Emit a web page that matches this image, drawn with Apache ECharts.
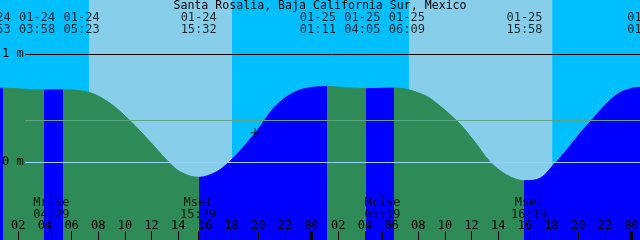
<!DOCTYPE html>
<html><head><meta charset="utf-8">
<script src="https://cdn.jsdelivr.net/npm/echarts@6/dist/echarts.min.js"></script>
<style>html,body{margin:0;padding:0;background:#00BFFF}#c{width:640px;height:240px}</style>
</head><body><div id="c"></div>
<script>
const chartTitle = 'Santa Rosalia, Baja California Sur, Mexico';
// hours since 01-24 00:00
const tideTimes  = [0.63, 0.883, 2.13, 3.967, 5.383, 7.38, 8.88, 10.38, 11.88, 13.13, 14.13, 15.533, 16.88, 17.88, 19.13, 20.13, 21.13, 22.13, 23.13, 24.13, 25.183, 26.13, 28.083, 30.15, 31.13, 32.13, 32.88, 34.88, 36.13, 37.38, 38.63, 39.967, 41.13, 42.13, 43.13, 44.13, 45.13, 46.13, 47.13, 48.13, 48.63, 49.03];
const tideLevels = [0.682, 0.684, 0.676, 0.667, 0.669, 0.642, 0.544, 0.382, 0.188, 0.019, -0.090, -0.142, -0.090, 0.009, 0.173, 0.327, 0.497, 0.605, 0.667, 0.692, 0.699, 0.692, 0.679, 0.685, 0.673, 0.634, 0.590, 0.382, 0.204, 0.003, -0.120, -0.173, -0.151, -0.028, 0.111, 0.266, 0.405, 0.544, 0.642, 0.685, 0.692, 0.694];

const eventDates = ['01-24', '01-24', '01-24', '01-24', '01-25', '01-25', '01-25', '01-25', '01-26'];
const eventClock = ['00:53', '03:58', '05:23', '15:32', '01:11', '04:05', '06:09', '15:58', '01:02'];

const moonNames = ['Mrise', 'Mset', 'Mrise', 'Mset'];
const moonDates = ['01-24', '01-24', '01-25', '01-25'];
const moonClock = ['04:29', '15:29', '05:19', '16:19'];

const sunDates   = ['01-24', '01-25'];
const sunriseClk = ['07:18', '07:18'];
const sunsetClk  = ['18:02', '18:03'];

const hourTicks  = [2, 4, 6, 8, 10, 12, 14, 16, 18, 20, 22, 24, 26, 28, 30, 32, 34, 36, 38, 40, 42, 44, 46, 48];
const hourLabels = ['02','04','06','08','10','12','14','16','18','20','22','00','02','04','06','08','10','12','14','16','18','20','22','00'];
const midnights  = [24, 48];

const levelTicks  = [0, 1];
const levelLabels = ['0 m', '1 m'];
const meanLevel = 0.39;
const nowTime = 19.76, nowLevel = 0.27;

const T0 = 0.63, SPAN = 48, YMAX = 1.5, YMIN = 1.5 - 240 / 108;
const FONT = 'DejaVu Sans Mono';
const C_DAY = '#87CEEB', C_NIGHT = '#00BFFF', C_EBB = '#2E8B57', C_FLOOD = '#0000FF';

function toHours(date, clock) {
  const d = +date.split('-')[1] - 24;
  const p = clock.split(':').map(Number);
  return d * 24 + p[0] + p[1] / 60;
}
const eventTimes = eventDates.map((d, i) => toHours(d, eventClock[i]));
const moonTimes = moonDates.map((d, i) => toHours(d, moonClock[i]));
const sunRise = sunDates.map((d, i) => toHours(d, sunriseClk[i]));
const sunSet = sunDates.map((d, i) => toHours(d, sunsetClk[i]));

// extremes alternate high/low starting with a high: rising (flood) before a high, falling (ebb) after it
const pieces = [];
for (let i = 0; i <= eventTimes.length; i++) {
  const p = {};
  if (i > 0) p.gte = eventTimes[i - 1];
  if (i < eventTimes.length) p.lt = eventTimes[i];
  p.color = (i % 2 === 1) ? C_EBB : C_FLOOD;
  pieces.push(p);
}

function pack(xs, gap) {
  const cl = xs.map(x => ({ sum: x, n: 1 }));
  let changed = true;
  while (changed) {
    changed = false;
    for (let i = 1; i < cl.length; i++) {
      const a = cl[i - 1], b = cl[i];
      const aEnd = a.sum / a.n + (a.n - 1) / 2 * gap;
      const bStart = b.sum / b.n - (b.n - 1) / 2 * gap;
      if (bStart - aEnd < gap) { a.sum += b.sum; a.n += b.n; cl.splice(i, 1); changed = true; break; }
    }
  }
  const out = [];
  cl.forEach(c => { const m = c.sum / c.n; for (let k = 0; k < c.n; k++) out.push(m + (k - (c.n - 1) / 2) * gap); });
  return out;
}
const pxPerHour = 640 / SPAN;
const packed = pack(eventTimes, 44.5 / pxPerHour);

const chart = echarts.init(document.getElementById('c'), null, { renderer: 'canvas' });
const txt = { fontFamily: FONT, fontSize: 12, color: '#000' };
const hiddenX = (gi, extra) => Object.assign({
  type: 'value', gridIndex: gi, min: T0, max: T0 + SPAN, position: 'bottom', z: 10,
  axisLine: { show: false, onZero: false }, splitLine: { show: false }, axisLabel: { show: false }, axisTick: { show: false }
}, extra || {});

chart.setOption({
  animation: false,
  backgroundColor: C_NIGHT,
  title: { text: chartTitle, left: 'center', top: 0, padding: 0, textStyle: Object.assign({}, txt, { fontWeight: 'normal', fontSize: 11.6 }) },
  grid: [
    { left: 0, right: 0, top: 0, bottom: 0, outerBoundsMode: 'none' },
    { left: 25, right: 0, top: 0, bottom: 0, outerBoundsMode: 'none' }
  ],
  xAxis: [
    hiddenX(0, {
      axisTick: { show: true, inside: true, length: 9, customValues: hourTicks, lineStyle: { color: '#000', width: 1 } },
      axisLabel: Object.assign({ show: true, inside: true, margin: 8, customValues: hourTicks, hideOverlap: false,
        formatter: v => hourLabels[hourTicks.indexOf(Math.round(v))] }, txt)
    }),
    hiddenX(0, { axisTick: { show: true, inside: true, length: 9, customValues: midnights, lineStyle: { color: '#000', width: 3 } } }),
    hiddenX(0, { axisTick: { show: true, inside: true, length: 9, customValues: moonTimes, lineStyle: { color: '#000', width: 1 } } }),
    hiddenX(1)
  ],
  yAxis: [
    { type: 'value', gridIndex: 0, min: YMIN, max: YMAX, position: 'left', z: 10,
      axisLine: { show: false, onZero: false }, splitLine: { show: false }, axisTick: { show: false },
      axisLabel: Object.assign({ show: true, inside: true, margin: 2, customValues: levelTicks, hideOverlap: false,
        formatter: v => levelLabels[levelTicks.indexOf(Math.round(v))] }, txt) },
    { type: 'value', gridIndex: 0, min: 0, max: 240, inverse: true, position: 'right', show: false },
    { type: 'value', gridIndex: 1, min: YMIN, max: YMAX, show: false }
  ],
  visualMap: { type: 'piecewise', show: false, dimension: 0, seriesIndex: 1, pieces: pieces },
  series: [
    { type: 'line', xAxisIndex: 0, yAxisIndex: 0, data: [], z: 0, silent: true,
      markArea: { silent: true, itemStyle: { color: C_DAY, opacity: 1 },
        data: sunRise.map((r, i) => [{ xAxis: r }, { xAxis: sunSet[i] }]) } },
    { type: 'line', xAxisIndex: 0, yAxisIndex: 0, z: 2, smooth: 0.35, symbol: 'none', silent: true,
      data: tideTimes.map((t, i) => [t, tideLevels[i]]),
      lineStyle: { width: 1 }, areaStyle: { opacity: 1, origin: 'start' } },
    { type: 'line', xAxisIndex: 3, yAxisIndex: 2, data: [], z: 4, silent: true,
      markLine: { silent: true, symbol: 'none', label: { show: false },
        data: [
          { yAxis: 1, lineStyle: { color: '#000', width: 1, type: 'solid' } },
          { yAxis: meanLevel, lineStyle: { color: '#5EA584', width: 1, type: 'solid' } },
          { yAxis: 0, lineStyle: { color: '#95D3F0', width: 1, type: 'solid' } }
        ] } },
    { type: 'scatter', xAxisIndex: 0, yAxisIndex: 0, z: 6, silent: true,
      symbol: 'path://M0,4h9v1h-9zM4,0h1v9h-1z', symbolSize: 9, itemStyle: { color: '#000' },
      data: [[nowTime, nowLevel]] },
    { type: 'scatter', xAxisIndex: 0, yAxisIndex: 1, z: 6, silent: true, symbolSize: 0, clip: false,
      data: packed.map((x, i) => ({ value: [x, 24], name: eventDates[i] + '\n' + eventClock[i] })),
      label: Object.assign({ show: true, position: 'inside', lineHeight: 12.5, formatter: p => p.name }, txt) },
    { type: 'scatter', xAxisIndex: 0, yAxisIndex: 1, z: 6, silent: true, symbolSize: 0, clip: false,
      data: moonTimes.map((x, i) => ({ value: [x, 209], name: moonNames[i] + '\n' + moonClock[i] })),
      label: Object.assign({ show: true, position: 'inside', lineHeight: 11.5, formatter: p => p.name }, txt) }
  ]
});
</script></body></html>
